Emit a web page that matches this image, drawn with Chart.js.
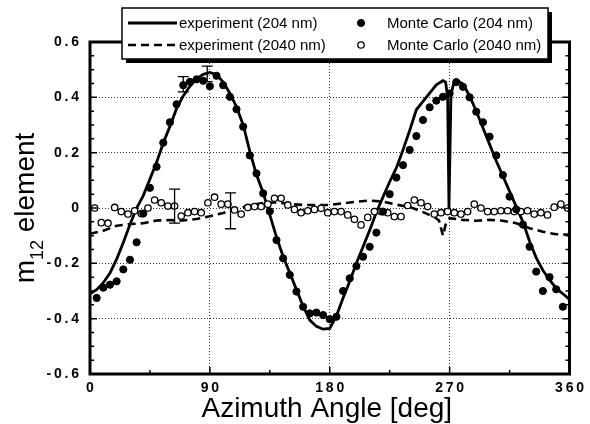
<!DOCTYPE html>
<html>
<head>
<meta charset="utf-8">
<script src="https://cdn.jsdelivr.net/npm/chart.js@4"></script>
<style>
  html, body { margin: 0; padding: 0; background: #fff; }
  #wrap { width: 590px; height: 424px; }
</style>
</head>
<body>
<div id="wrap"><canvas id="chart" width="590" height="424"></canvas></div>
<script>
// experiment, 204 nm (solid line)
const expAngles204 = [0, 5, 10, 15, 20, 25, 30, 35, 40, 45, 50, 55, 60, 65, 70, 75, 80, 85, 90, 95,
  100, 105, 110, 115, 120, 125, 130, 135, 140, 145, 150, 155, 160, 165, 170, 175, 180, 185, 190, 195,
  200, 205, 210, 215, 220, 225, 230, 235, 240, 245, 250, 255, 260, 265, 267, 268.5, 269.5, 271, 273, 275,
  280, 285, 290, 295, 300, 305, 310, 315, 320, 325, 330, 335, 340, 345, 350, 355, 360];
const exp204 = [-0.31, -0.295, -0.27, -0.235, -0.185, -0.125, -0.06, 0.0, 0.045, 0.105, 0.165, 0.235, 0.295, 0.36, 0.405, 0.44, 0.467, 0.483, 0.49, 0.482,
  0.455, 0.415, 0.365, 0.30, 0.205, 0.12, 0.055, -0.025, -0.105, -0.175, -0.235, -0.295, -0.355, -0.405, -0.428, -0.438, -0.435, -0.39, -0.325, -0.265,
  -0.20, -0.14, -0.08, -0.015, 0.04, 0.095, 0.145, 0.21, 0.28, 0.355, 0.385, 0.415, 0.445, 0.46, 0.455, 0.40, 0.0, 0.41, 0.45, 0.463,
  0.448, 0.405, 0.35, 0.29, 0.23, 0.17, 0.115, 0.06, 0.005, -0.05, -0.12, -0.18, -0.225, -0.26, -0.29, -0.31, -0.33];

// experiment, 2040 nm (dashed line)
const expAngles2040 = [0, 10, 20, 30, 40, 50, 60, 70, 80, 90, 100, 110, 120, 130, 140, 150, 160, 170, 180, 190,
  200, 210, 220, 230, 240, 250, 258, 262, 265, 267, 270, 280, 290, 300, 310, 320, 330, 340, 350, 360];
const exp2040 = [-0.093, -0.082, -0.064, -0.058, -0.055, -0.045, -0.044, -0.045, -0.04, -0.03, -0.018, -0.003, 0.01, 0.018, 0.02, 0.014, 0.011, 0.011, 0.011, 0.017,
  0.023, 0.027, 0.023, 0.012, 0.004, -0.015, -0.031, -0.045, -0.1, -0.06, -0.037, -0.043, -0.046, -0.043, -0.046, -0.055, -0.073, -0.086, -0.095, -0.096];

// Monte Carlo, 204 nm (filled dots)
const mcAngles204 = [5, 10, 15, 20, 25, 30, 35, 40, 45, 50, 55, 60, 65, 70, 75, 80, 85, 90, 95, 100,
  105, 110, 115, 120, 125, 130, 135, 140, 145, 150, 155, 160, 165, 170, 175, 180, 185, 190, 195, 200,
  205, 210, 215, 220, 225, 230, 235, 240, 245, 250, 255, 260, 265, 270, 275, 280, 285, 290, 295, 300,
  305, 310, 315, 320, 325, 330, 335, 340, 345, 350, 355];
const mc204 = [-0.325, -0.288, -0.277, -0.265, -0.222, -0.187, -0.124, -0.02, 0.073, 0.149, 0.236, 0.31, 0.375, 0.444, 0.456, 0.465, 0.46, 0.44, 0.478, 0.444,
  0.402, 0.357, 0.294, 0.19, 0.125, 0.053, -0.012, -0.116, -0.182, -0.242, -0.302, -0.357, -0.381, -0.378, -0.387, -0.402, -0.393, -0.30, -0.254, -0.21,
  -0.176, -0.14, -0.089, -0.013, 0.05, 0.11, 0.155, 0.21, 0.26, 0.318, 0.364, 0.388, 0.402, 0.414, 0.455, 0.438, 0.40, 0.348, 0.31, 0.258,
  0.19, 0.119, 0.041, -0.005, -0.06, -0.14, -0.23, -0.30, -0.25, -0.294, -0.357];

// Monte Carlo, 2040 nm (open circles)
const mcAngles2040 = [3.5, 8.5, 13.5, 18.5, 23.5, 28.5, 33.5, 38.5, 43.5, 48.5, 53.5, 58.5, 63.5, 68.5, 73.5, 78.5, 83.5, 88.5, 93.5, 98.5,
  103.5, 108.5, 113.5, 118.5, 123.5, 128.5, 133.5, 138.5, 143.5, 148.5, 153.5, 158.5, 163.5, 168.5, 173.5, 178.5, 183.5, 188.5, 193.5, 198.5,
  203.5, 208.5, 213.5, 218.5, 223.5, 228.5, 233.5, 238.5, 243.5, 248.5, 253.5, 258.5, 263.5, 268.5, 273.5, 278.5, 283.5, 288.5, 293.5, 298.5,
  303.5, 308.5, 313.5, 318.5, 323.5, 328.5, 333.5, 338.5, 343.5, 348.5, 353.5, 358.5];
const mc2040 = [0.0, -0.053, -0.055, 0.002, -0.013, -0.022, -0.01, -0.02, 0.0, 0.029, 0.019, 0.007, 0.007, -0.029, -0.017, -0.013, -0.017, 0.019, 0.039, 0.014,
  0.014, -0.007, -0.022, 0.002, 0.005, 0.005, 0.014, 0.035, 0.035, 0.011, -0.005, -0.017, -0.01, -0.005, -0.001, -0.017, -0.013, -0.013, -0.025, -0.041,
  -0.061, -0.034, -0.013, -0.013, -0.017, -0.031, -0.031, 0.009, 0.029, 0.019, 0.005, -0.022, -0.017, -0.013, -0.017, -0.022, -0.013, 0.014, 0.0, -0.013,
  -0.013, -0.01, -0.01, -0.013, -0.013, -0.01, -0.022, -0.017, -0.025, 0.003, 0.014, 0.0];

// error bars
const errAngles = [70, 88, 63.5, 105.5];
const errLow = [0.42, 0.457, -0.055, -0.075];
const errHigh = [0.475, 0.513, 0.068, 0.055];

const toXY = (xs, ys) => xs.map((x, i) => ({ x: x, y: ys[i] }));

const FONT = '"Liberation Sans", Arial, sans-serif';
const spaced = s => s.split('').join('\u2009');

// frame, inward ticks, error bars
const framePlugin = {
  id: 'frame',
  afterDatasetsDraw(chart) {
    const { ctx, chartArea: a, scales: { x, y } } = chart;
    ctx.save();
    ctx.strokeStyle = '#000';

    // error bars
    ctx.lineWidth = 1.3;
    errAngles.forEach((ang, i) => {
      const px = x.getPixelForValue(ang);
      const y1 = y.getPixelForValue(errLow[i]);
      const y2 = y.getPixelForValue(errHigh[i]);
      ctx.beginPath();
      ctx.moveTo(px, y1); ctx.lineTo(px, y2);
      ctx.moveTo(px - 5.5, y1); ctx.lineTo(px + 5.5, y1);
      ctx.moveTo(px - 5.5, y2); ctx.lineTo(px + 5.5, y2);
      ctx.stroke();
    });

    // ticks
    ctx.lineWidth = 1.5;
    ctx.beginPath();
    for (let k = -12; k <= 12; k++) {
      const py = y.getPixelForValue(k * 0.05);
      const len = k % 4 === 0 ? 7 : 4;
      ctx.moveTo(a.left, py); ctx.lineTo(a.left + len, py);
      ctx.moveTo(a.right, py); ctx.lineTo(a.right - len, py);
    }
    for (let k = 0; k <= 8; k++) {
      const px = x.getPixelForValue(k * 45);
      const len = k % 2 === 0 ? 7 : 4;
      ctx.moveTo(px, a.bottom); ctx.lineTo(px, a.bottom - len);
      ctx.moveTo(px, a.top); ctx.lineTo(px, a.top + len);
    }
    ctx.stroke();

    // frame
    ctx.lineWidth = 3;
    ctx.strokeRect(a.left, a.top, a.right - a.left, a.bottom - a.top);
    ctx.restore();
  }
};

// axis titles
const titlesPlugin = {
  id: 'titles',
  afterDraw(chart) {
    const { ctx, chartArea: a } = chart;
    ctx.save();
    ctx.fillStyle = '#000';
    ctx.textBaseline = 'alphabetic';

    // x title
    ctx.font = '28px ' + FONT;
    ctx.textAlign = 'center';
    ctx.fillText('Azimuth Angle [deg]', (a.left + a.right) / 2 - 3, 417);

    // y title with subscript
    ctx.translate(34, (a.top + a.bottom) / 2);
    ctx.rotate(-Math.PI / 2);
    ctx.textAlign = 'left';
    ctx.font = '28px ' + FONT;
    const wM = ctx.measureText('m').width;
    ctx.font = '18px ' + FONT;
    const w12 = ctx.measureText('12').width;
    ctx.font = '28px ' + FONT;
    const wEl = ctx.measureText(' element').width;
    let cx = -(wM + w12 + wEl) / 2;
    ctx.fillText('m', cx, 0);
    cx += wM;
    ctx.font = '18px ' + FONT;
    ctx.fillText('12', cx, 9);
    cx += w12;
    ctx.font = '28px ' + FONT;
    ctx.fillText(' element', cx, 0);
    ctx.restore();
  }
};

// boxed two-column legend
const legendPlugin = {
  id: 'boxLegend',
  afterDraw(chart) {
    const { ctx } = chart;
    const box = { x: 122, y: 8, w: 426, h: 51 };
    ctx.save();
    ctx.fillStyle = '#000';
    ctx.fillRect(box.x + 4, box.y + 4, box.w, box.h);
    ctx.fillStyle = '#fff';
    ctx.fillRect(box.x, box.y, box.w, box.h);
    ctx.strokeStyle = '#000';
    ctx.lineWidth = 1.5;
    ctx.strokeRect(box.x, box.y, box.w, box.h);

    const rows = [23, 45];
    const ds = chart.data.datasets;
    ctx.font = '15px ' + FONT;
    ctx.textBaseline = 'middle';
    ctx.textAlign = 'left';
    // column 1: lines
    [0, 1].forEach((i, r) => {
      const d = ds[i];
      ctx.strokeStyle = '#000';
      ctx.lineWidth = d.borderWidth;
      ctx.setLineDash(d.borderDash || []);
      ctx.beginPath();
      ctx.moveTo(128, rows[r]); ctx.lineTo(177, rows[r]);
      ctx.stroke();
      ctx.setLineDash([]);
      ctx.fillStyle = '#000';
      ctx.fillText(d.label, 179, rows[r] + 1);
    });
    // column 2: markers
    [2, 3].forEach((i, r) => {
      const d = ds[i];
      ctx.beginPath();
      ctx.arc(361, rows[r], d.pointRadius, 0, Math.PI * 2);
      ctx.fillStyle = d.pointBackgroundColor;
      ctx.fill();
      ctx.lineWidth = d.pointBorderWidth;
      ctx.strokeStyle = '#000';
      ctx.stroke();
      ctx.fillStyle = '#000';
      ctx.fillText(d.label, 387, rows[r] + 1);
    });
    ctx.restore();
  }
};

const noEdge = (min, max) => c => (Math.abs(c.tick.value - min) < 1e-9 || Math.abs(c.tick.value - max) < 1e-9) ? 'rgba(0,0,0,0)' : '#333';

new Chart(document.getElementById('chart'), {
  type: 'scatter',
  data: {
    datasets: [
      {
        label: 'experiment (204 nm)',
        data: toXY(expAngles204, exp204),
        showLine: true,
        borderColor: '#000',
        borderWidth: 2.8,
        pointRadius: 0,
        tension: 0,
        order: 3
      },
      {
        label: 'experiment (2040 nm)',
        data: toXY(expAngles2040, exp2040),
        showLine: true,
        borderColor: '#000',
        borderWidth: 2.6,
        borderDash: [8, 5],
        pointRadius: 0,
        tension: 0,
        order: 4
      },
      {
        label: 'Monte Carlo (204 nm)',
        data: toXY(mcAngles204, mc204),
        showLine: false,
        pointRadius: 3.6,
        pointBackgroundColor: '#000',
        pointBorderColor: '#000',
        pointBorderWidth: 1,
        order: 1
      },
      {
        label: 'Monte Carlo (2040 nm)',
        data: toXY(mcAngles2040, mc2040),
        showLine: false,
        pointRadius: 3.2,
        pointBackgroundColor: '#fff',
        pointBorderColor: '#000',
        pointBorderWidth: 1.3,
        order: 2
      }
    ]
  },
  options: {
    responsive: false,
    animation: false,
    layout: { padding: { left: 0, top: 42, right: 17, bottom: 0 } },
    plugins: {
      legend: { display: false },
      tooltip: { enabled: false }
    },
    scales: {
      x: {
        type: 'linear',
        min: 0,
        max: 360,
        afterFit: s => { s.height = 50; },
        ticks: {
          stepSize: 90,
          padding: 6,
          color: '#000',
          font: { family: FONT, size: 14, weight: 'bold' },
          maxRotation: 0,
          callback: v => spaced(String(v))
        },
        grid: { color: noEdge(0, 360), lineWidth: 1, drawTicks: false },
        border: { display: false, dash: [1, 2] }
      },
      y: {
        min: -0.6,
        max: 0.6,
        afterFit: s => { s.width = 90; },
        ticks: {
          stepSize: 0.2,
          padding: 11,
          color: '#000',
          font: { family: FONT, size: 14, weight: 'bold' },
          callback: v => spaced(Math.abs(v) < 1e-9 ? '0' : v.toFixed(1))
        },
        grid: { color: noEdge(-0.6, 0.6), lineWidth: 1, drawTicks: false },
        border: { display: false, dash: [1, 2] }
      }
    }
  },
  plugins: [framePlugin, titlesPlugin, legendPlugin]
});
</script>
</body>
</html>
